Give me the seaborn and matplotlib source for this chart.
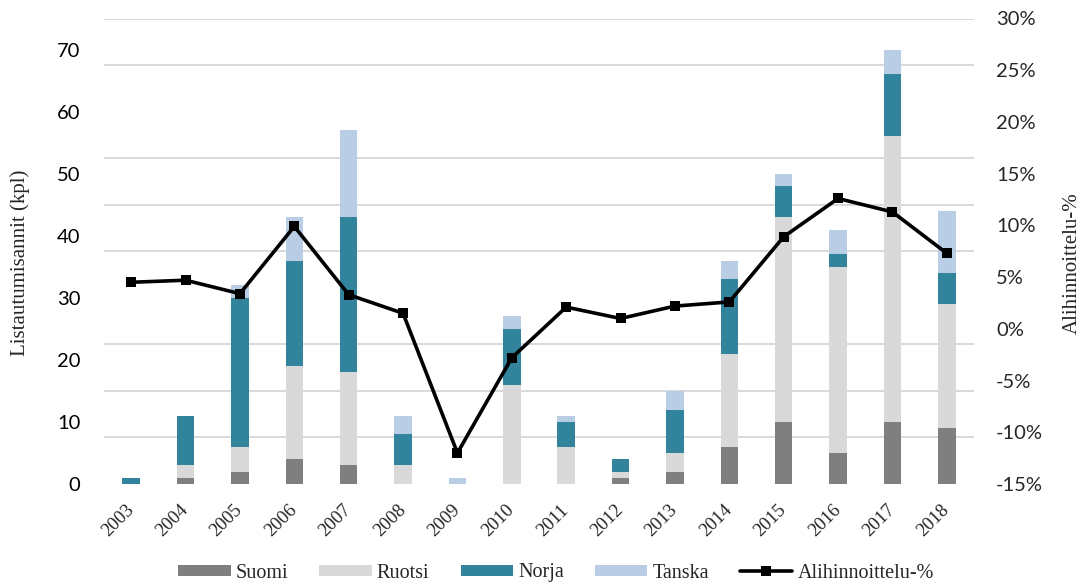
import numpy as np
import matplotlib
matplotlib.use("Agg")
import matplotlib.pyplot as plt
from matplotlib.ticker import MultipleLocator, FuncFormatter
from matplotlib.patches import Patch
from matplotlib.lines import Line2D
import seaborn as sns

# ---- data ----
years = ['2003', '2004', '2005', '2006', '2007', '2008', '2009', '2010',
         '2011', '2012', '2013', '2014', '2015', '2016', '2017', '2018']
suomi = [0, 1, 2, 4, 3, 0, 0, 0, 0, 1, 2, 6, 10, 5, 10, 9]
ruotsi = [0, 2, 4, 15, 15, 3, 0, 16, 6, 1, 3, 15, 33, 30, 46, 20]
norja = [1, 8, 24, 17, 25, 5, 0, 9, 4, 2, 7, 12, 5, 2, 10, 5]
tanska = [0, 0, 2, 7, 14, 3, 1, 2, 1, 0, 3, 3, 2, 4, 4, 10]
alihinnoittelu = [4.5, 4.7, 3.4, 9.9, 3.3, 1.5, -12.0, -2.8, 2.1, 1.0,
                  2.2, 2.6, 8.9, 12.6, 11.3, 7.3]
series_names = ['Suomi', 'Ruotsi', 'Norja', 'Tanska']
line_name = 'Alihinnoittelu-%'
left_title = 'Listautumisannit (kpl)'
right_title = 'Alihinnoittelu-%'

colors = ['#7F7F7F', '#D9D9D9', '#31849B', '#B9CDE5']

sns.set_style('white')
plt.rcParams['font.family'] = ['Lato', 'DejaVu Sans']
SERIF = ['Liberation Serif', 'DejaVu Serif']

fig = plt.figure(figsize=(10.84, 5.85), dpi=100)
ax = fig.add_axes([104 / 1084, 1 - 484 / 585, 870 / 1084, 465.5 / 585])

series = [suomi, ruotsi, norja, tanska]
cum = np.cumsum(np.array(series), axis=0)
# draw from the top segment downward so lower segments overlay
for i in range(len(series) - 1, -1, -1):
    sns.barplot(x=years, y=cum[i], color=colors[i], width=0.32, saturation=1,
                linewidth=0, ax=ax, zorder=2)

ax.set_ylim(0, 75)
ax.yaxis.set_major_locator(MultipleLocator(10))
ax.yaxis.set_minor_locator(MultipleLocator(7.5))
ax.grid(False)
ax.grid(True, which='minor', axis='y', color='#D9D9D9', linewidth=1.4, zorder=0)
ax.set_axisbelow(True)
ax.tick_params(axis='y', which='both', length=0, pad=17, labelsize=14.5, labelcolor='#000000')
ax.tick_params(axis='x', length=0, pad=17)
for lab in ax.get_xticklabels():
    lab.set_fontfamily(SERIF)
    lab.set_fontsize(13.5)
    lab.set_rotation(45)
    lab.set_rotation_mode('anchor')
    lab.set_ha('right')
    lab.set_va('center')
for s in ax.spines.values():
    s.set_visible(False)
ax.set_xlabel('')
ax.set_ylabel(left_title, family=SERIF, fontsize=15, va='center')
ax.yaxis.set_label_coords(-0.0966, 0.475)

ax2 = ax.twinx()
sns.lineplot(x=np.arange(len(years)), y=alihinnoittelu, ax=ax2, color='black',
             linewidth=2.6, marker='s', markersize=7.5, markeredgecolor='black',
             markeredgewidth=0, zorder=5)
ax2.set_ylim(-15, 30)
ax2.yaxis.set_major_locator(MultipleLocator(5))
ax2.yaxis.set_major_formatter(FuncFormatter(lambda v, p: f"{v:.0f}%"))
ax2.tick_params(axis='y', length=0, pad=16, labelsize=14.5)
ax2.grid(False)
for s in ax2.spines.values():
    s.set_visible(False)
ax2.set_xlabel('')
ax2.set_ylabel(right_title, family=SERIF, fontsize=15, rotation=90, va='center')
ax2.yaxis.set_label_coords(1.1126, 0.475)
ax.set_xlim(-0.5, len(years) - 0.5)

handles = [Patch(facecolor=c, edgecolor='none') for c in colors]
handles.append(Line2D([0], [0], color='black', linewidth=2.6, marker='s',
                      markersize=7.5, markeredgewidth=0))
fig.legend(handles, series_names + [line_name], loc='center',
           bbox_to_anchor=(556 / 1084, 1 - 573 / 585), ncol=5, frameon=False,
           prop={'family': SERIF, 'size': 14.5}, handlelength=2.6,
           handleheight=0.5, handletextpad=0.25, columnspacing=1.55,
           borderaxespad=0, borderpad=0)

fig.savefig('out.png', dpi=100)
